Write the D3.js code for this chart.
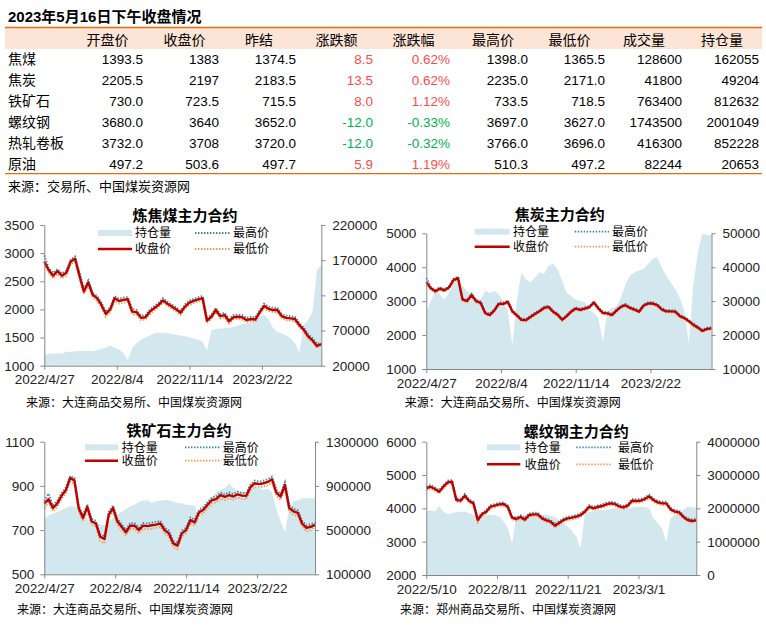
<!DOCTYPE html>
<html>
<head>
<meta charset="utf-8">
<script src="https://cdn.jsdelivr.net/npm/d3@7"></script>
<style>
body { margin: 0; background: #fff; }
svg { display: block; font-family: "Liberation Sans", "Noto Sans CJK SC", sans-serif; }
</style>
</head>
<body>
<div id="chart"></div>
<script>
// ---- table data ----
var products   = ["焦煤", "焦炭", "铁矿石", "螺纹钢", "热轧卷板", "原油"];
var headers    = ["开盘价", "收盘价", "昨结", "涨跌额", "涨跌幅", "最高价", "最低价", "成交量", "持仓量"];
var openPx     = ["1393.5", "2205.5", "730.0", "3680.0", "3732.0", "497.2"];
var closePx    = ["1383", "2197", "723.5", "3640", "3708", "503.6"];
var prevSettle = ["1374.5", "2183.5", "715.5", "3652.0", "3720.0", "497.7"];
var change     = ["8.5", "13.5", "8.0", "-12.0", "-12.0", "5.9"];
var changePct  = ["0.62%", "0.62%", "1.12%", "-0.33%", "-0.32%", "1.19%"];
var highPx     = ["1398.0", "2235.0", "733.5", "3697.0", "3766.0", "510.3"];
var lowPx      = ["1365.5", "2171.0", "718.5", "3627.0", "3696.0", "497.2"];
var volume     = ["128600", "41800", "763400", "1743500", "416300", "82244"];
var openInt    = ["162055", "49204", "812632", "2001049", "852228", "20653"];

// ---- chart data (sampled every ~4 trading days) ----
var legendLabels = ["持仓量", "最高价", "收盘价", "最低价"];
var datesDce   = ["2022/4/27", "2022/8/4", "2022/11/14", "2023/2/22"];
var datesRebar = ["2022/5/10", "2022/8/11", "2022/11/21", "2023/3/1"];

var coalClose = [2850,2700,2600,2680,2600,2650,2850,2900,2600,2320,2480,2260,2200,2080,1920,2000,2200,2150,2170,2180,1960,1950,1850,1860,1960,2020,2080,2160,2100,2050,2000,1940,2050,2120,2150,2180,2200,1800,1870,1990,1880,1900,1790,1860,1870,1860,1810,1830,1820,1950,2060,2010,1990,1990,1880,1850,1840,1830,1720,1640,1520,1450,1350,1383];
var coalHigh  = [2960,2740,2650,2720,2640,2690,2890,2940,2660,2370,2520,2300,2240,2120,1960,2040,2240,2190,2210,2220,2010,1990,1890,1900,2000,2060,2120,2200,2140,2090,2040,1980,2090,2160,2190,2220,2240,1850,1910,2030,1920,1940,1830,1900,1910,1900,1850,1870,1860,1990,2100,2050,2030,2030,1920,1890,1880,1870,1760,1680,1560,1490,1390,1398];
var coalLow   = [2800,2650,2550,2630,2550,2600,2800,2860,2550,2270,2430,2210,2150,2030,1870,1950,2150,2100,2120,2130,1910,1900,1810,1820,1910,1980,2040,2120,2060,2010,1960,1900,2010,2080,2110,2140,2160,1760,1830,1950,1840,1860,1750,1820,1830,1820,1770,1790,1780,1910,2020,1970,1950,1950,1840,1810,1800,1790,1680,1600,1480,1410,1310,1365];
var coalOI    = [35000,37000,37000,38000,36500,40000,40000,40500,41000,41000,41500,40500,42000,44000,46000,49000,45000,43000,38000,28000,45000,52000,57000,60000,63000,66000,67000,66000,66000,65500,64000,63000,62000,60000,59000,57000,54000,42000,70000,72000,73000,73000,74000,75000,77000,79000,80000,81000,84000,90000,92000,86000,74000,68000,66000,63000,59000,52000,38000,78000,85000,97000,155000,163000];

var cokeClose = [3560,3380,3290,3370,3320,3400,3620,3680,3050,3000,3180,3000,2950,2650,2590,2720,2920,2920,2980,2700,2580,2450,2440,2530,2620,2700,2800,2830,2690,2600,2450,2560,2690,2780,2740,2780,2820,2960,2790,2650,2640,2590,2720,2830,2880,2800,2750,2690,2870,2930,2930,2880,2760,2700,2700,2690,2560,2500,2410,2300,2220,2120,2180,2197];
var cokeHigh  = [3680,3420,3330,3410,3360,3440,3660,3720,3090,3040,3220,3040,2990,2690,2630,2760,2960,2960,3020,2740,2620,2490,2480,2570,2660,2740,2840,2870,2730,2640,2490,2600,2730,2820,2780,2820,2860,3000,2830,2690,2680,2630,2760,2870,2920,2840,2790,2730,2910,2970,2970,2920,2800,2740,2740,2730,2600,2540,2450,2340,2260,2160,2220,2235];
var cokeLow   = [3520,3340,3250,3330,3280,3360,3580,3640,3010,2960,3140,2960,2910,2610,2550,2680,2880,2880,2940,2660,2540,2410,2400,2490,2580,2660,2760,2790,2650,2560,2410,2520,2650,2740,2700,2740,2780,2920,2750,2610,2600,2550,2680,2790,2840,2760,2710,2650,2830,2890,2890,2840,2720,2660,2660,2650,2520,2460,2370,2260,2180,2080,2140,2171];
var cokeOI    = [27000,30000,33000,32000,30500,32500,35500,36000,34500,33000,32000,31000,30500,33000,32500,33000,32000,30000,27000,17000,30000,38500,36500,35500,37000,38500,38000,40500,41000,39500,36000,32500,31500,30500,30000,29800,27500,26500,25000,18000,27000,28000,28500,31000,35000,37500,38500,39000,39500,41000,42500,43000,40000,37500,35500,33500,31000,27000,17500,35000,44500,50000,49500,49500];

var oreClose = [820,840,800,820,855,880,935,925,800,755,805,740,730,670,660,770,800,740,715,690,720,720,700,720,718,722,725,730,700,685,640,630,685,700,745,735,780,792,815,835,840,858,850,858,852,862,856,855,895,912,908,912,918,930,870,852,905,800,785,778,730,710,715,723.5];
var oreHigh  = [832,865,812,832,867,892,945,937,812,767,817,752,742,682,672,782,812,752,727,702,732,732,712,732,730,734,737,742,712,697,652,642,697,712,757,747,792,804,827,847,852,870,862,870,864,874,868,867,907,924,920,924,930,942,882,864,917,812,797,790,742,722,727,733.5];
var oreLow   = [800,825,785,805,840,865,920,910,785,740,790,725,715,650,640,755,785,725,700,675,705,705,685,705,703,707,710,715,685,670,622,615,670,685,730,720,765,777,800,820,825,843,835,843,837,847,841,840,880,897,893,897,903,915,855,837,890,785,770,763,715,695,700,718.5];
var oreOI    = [600000,630000,650000,665000,680000,700000,715000,715000,680000,620000,605000,590000,575000,550000,545000,570000,610000,640000,665000,690000,715000,730000,755000,768000,770000,745000,760000,765000,772000,770000,757000,745000,742000,730000,727000,720000,600000,690000,760000,800000,840000,860000,880000,920000,880000,855000,848000,850000,870000,890000,880000,865000,875000,840000,690000,580000,480000,700000,760000,770000,785000,790000,785000,790000];

var rebarClose = [4600,4650,4580,4500,4650,4780,4800,4250,4230,4380,4220,4150,3650,3820,3900,4050,4080,4120,4130,4050,3720,3680,3740,3660,3800,3820,3820,3700,3640,3600,3480,3560,3650,3700,3720,3750,3800,3900,4050,4000,4040,4070,4120,4150,4130,4060,4030,4080,4230,4220,4230,4280,4360,4250,4180,4150,4150,3970,3900,3880,3740,3650,3620,3640];
var rebarHigh  = [4660,4700,4630,4550,4700,4830,4850,4300,4280,4430,4270,4200,3710,3870,3950,4100,4130,4170,4180,4100,3770,3730,3790,3710,3850,3870,3870,3750,3690,3650,3530,3610,3700,3750,3770,3800,3850,3950,4100,4050,4090,4120,4170,4200,4180,4110,4080,4130,4280,4270,4280,4330,4410,4300,4230,4200,4200,4020,3950,3930,3790,3700,3670,3697];
var rebarLow   = [4540,4600,4530,4450,4600,4730,4750,4200,4180,4330,4170,4100,3580,3770,3850,4000,4030,4070,4080,4000,3670,3630,3690,3610,3750,3770,3770,3650,3590,3550,3420,3510,3600,3650,3670,3700,3750,3850,4000,3950,3990,4020,4070,4100,4080,4010,3980,4030,4180,4170,4180,4230,4310,4200,4130,4100,4100,3920,3850,3830,3690,3600,3570,3627];
var rebarOI    = [1900000,1950000,1900000,2080000,1900000,1820000,1850000,1900000,1900000,1900000,1850000,1800000,1780000,1760000,1800000,1800000,1800000,1760000,1620000,1420000,950000,1750000,1800000,1790000,1800000,1810000,1800000,1800000,1800000,1780000,1750000,1650000,1550000,1450000,1330000,1150000,800000,1850000,1900000,1900000,1950000,1950000,1960000,1980000,2000000,2000000,2000000,2010000,2020000,2050000,2050000,2040000,2000000,1700000,1550000,1400000,1000000,1700000,1800000,1850000,1950000,2050000,2030000,2000000];

var totalDays = 252;
var tickDays = [0, 66, 132, 198];

var W = 766, H = 628;
var svg = d3.select("#chart").append("svg")
    .attr("width", W)
    .attr("height", H);

svg.append("rect").attr("width", W).attr("height", H).attr("fill", "#fff");

// ================= table =================
var colRight  = [143, 219, 296, 373, 450, 528, 605, 682, 759];
var colCenter = [107.5, 184.5, 259, 336.5, 413.5, 493, 569.5, 644, 722];
var rowY0 = 64, rowStep = 21;
var lineColor = "#E46C0A";

svg.append("text")
    .attr("x", 8).attr("y", 22)
    .style("font-size", "15px").style("font-weight", "bold")
    .attr("fill", "#000")
    .text("2023年5月16日下午收盘情况");

svg.append("rect")
    .attr("x", 5).attr("y", 27.5).attr("width", 757).attr("height", 21.5)
    .attr("fill", "#FCE4D6");
svg.append("line")
    .attr("x1", 5).attr("x2", 762).attr("y1", 27.5).attr("y2", 27.5)
    .attr("stroke", lineColor).attr("stroke-width", 1.3);
svg.append("line")
    .attr("x1", 5).attr("x2", 762).attr("y1", 173.7).attr("y2", 173.7)
    .attr("stroke", lineColor).attr("stroke-width", 1.3);

svg.selectAll(".hdr").data(headers).enter().append("text")
    .attr("class", "hdr")
    .attr("x", function(d, i) { return colCenter[i]; })
    .attr("y", 45)
    .attr("text-anchor", "middle")
    .style("font-size", "14px")
    .attr("fill", "#000")
    .text(function(d) { return d; });

var columns = [openPx, closePx, prevSettle, change, changePct, highPx, lowPx, volume, openInt];

products.forEach(function(p, r) {
    var y = rowY0 + r * rowStep;
    svg.append("text")
        .attr("x", 8).attr("y", y)
        .style("font-size", "14px")
        .attr("fill", "#000")
        .text(p);
    columns.forEach(function(col, c) {
        var v = col[r];
        var fill = "#000";
        if (c === 3 || c === 4) fill = v.charAt(0) === "-" ? "#00B050" : "#FF4B4B";
        svg.append("text")
            .attr("x", colRight[c]).attr("y", y)
            .attr("text-anchor", "end")
            .style("font-size", "13.5px")
            .attr("fill", fill)
            .text(v);
    });
});

svg.append("text")
    .attr("x", 8).attr("y", 191)
    .style("font-size", "13px")
    .attr("fill", "#000")
    .text("来源：交易所、中国煤炭资源网");

// ================= small charts =================
function drawChart(c) {
    var g = svg.append("g");
    var n = c.close.length;
    var day = function(i) { return i * totalDays / (n - 1); };

    var x = d3.scaleLinear().domain([0, totalDays]).range([c.left, c.right]);
    var yL = d3.scaleLinear().domain(c.leftDomain).range([c.bottom, c.top]);
    var yR = d3.scaleLinear().domain(c.rightDomain).range([c.bottom, c.top]);

    // open interest area
    g.append("path")
        .datum(c.oi)
        .attr("d", d3.area()
            .x(function(d, i) { return x(day(i)); })
            .y0(c.bottom)
            .y1(function(d) { return yR(d); }))
        .attr("fill", "#D3E8EE");

    var line = d3.line()
        .x(function(d, i) { return x(day(i)); })
        .y(function(d) { return yL(d); });

    g.append("path").datum(c.high).attr("d", line)
        .attr("fill", "none").attr("stroke", "#31859C")
        .attr("stroke-width", 1.8).attr("stroke-dasharray", "1.4,1.6");
    g.append("path").datum(c.low).attr("d", line)
        .attr("fill", "none").attr("stroke", "#F79646")
        .attr("stroke-width", 1.8).attr("stroke-dasharray", "1.4,1.6");
    g.append("path").datum(c.close).attr("d", line)
        .attr("fill", "none").attr("stroke", "#C00000")
        .attr("stroke-width", 2.4).attr("stroke-linejoin", "round");

    // axes
    var gl = g.append("g")
        .attr("transform", "translate(" + c.left + ",0)")
        .call(d3.axisLeft(yL).tickValues(c.leftTicks).tickSize(4).tickSizeOuter(0).tickPadding(6).tickFormat(d3.format("d")));
    var gr = g.append("g")
        .attr("transform", "translate(" + c.right + ",0)")
        .call(d3.axisRight(yR).tickValues(c.rightTicks).tickSize(4).tickSizeOuter(0).tickPadding(7).tickFormat(d3.format("d")));
    var gb = g.append("g")
        .attr("transform", "translate(0," + c.bottom + ")")
        .call(d3.axisBottom(x).tickValues(tickDays).tickSize(4).tickSizeOuter(0).tickPadding(5)
            .tickFormat(function(d, i) { return c.dates[i]; }));

    [gl, gr, gb].forEach(function(a) {
        a.select(".domain").attr("stroke", "#868686");
        a.selectAll(".tick line").attr("stroke", "#868686");
        a.selectAll("text").style("font-size", "13.5px").attr("fill", "#222")
            .style("font-family", "Liberation Sans, sans-serif");
    });

    // title
    g.append("text")
        .attr("x", c.titleX).attr("y", c.titleY)
        .attr("text-anchor", "middle")
        .style("font-size", "15px").style("font-weight", "bold")
        .attr("fill", "#000")
        .text(c.title);

    // legend
    var r1 = c.legY[0], r2 = c.legY[1];
    g.append("rect")
        .attr("x", c.legX[0]).attr("y", r1 - 3)
        .attr("width", c.legX[1] - c.legX[0]).attr("height", 6)
        .attr("fill", "#D3E8EE");
    g.append("line")
        .attr("x1", c.legX[0]).attr("x2", c.legX[1]).attr("y1", r2).attr("y2", r2)
        .attr("stroke", "#C00000").attr("stroke-width", 2.6);
    g.append("line")
        .attr("x1", c.legX[3]).attr("x2", c.legX[4]).attr("y1", r1).attr("y2", r1)
        .attr("stroke", "#31859C").attr("stroke-width", 1.8).attr("stroke-dasharray", "1.4,1.6");
    g.append("line")
        .attr("x1", c.legX[3]).attr("x2", c.legX[4]).attr("y1", r2).attr("y2", r2)
        .attr("stroke", "#F79646").attr("stroke-width", 1.8).attr("stroke-dasharray", "1.4,1.6");

    var legPos = [[c.legX[2], r1], [c.legX[5], r1], [c.legX[2], r2], [c.legX[5], r2]];
    legendLabels.forEach(function(t, i) {
        g.append("text")
            .attr("x", legPos[i][0]).attr("y", legPos[i][1])
            .attr("dy", "0.36em")
            .style("font-size", "12px")
            .attr("fill", "#000")
            .text(t);
    });

    // source
    g.append("text")
        .attr("x", c.srcX).attr("y", c.srcY)
        .style("font-size", "12px")
        .attr("fill", "#000")
        .text(c.source);
}

drawChart({
    title: "炼焦煤主力合约", titleX: 185, titleY: 221,
    left: 44.3, right: 321.3, top: 225, bottom: 365.7,
    leftDomain: [1000, 3500], leftTicks: [1000, 1500, 2000, 2500, 3000, 3500],
    rightDomain: [20000, 220000], rightTicks: [20000, 70000, 120000, 170000, 220000],
    close: coalClose, high: coalHigh, low: coalLow, oi: coalOI,
    dates: datesDce,
    legY: [233, 249], legX: [98, 132, 135, 195, 230, 233],
    source: "来源：大连商品交易所、中国煤炭资源网", srcX: 26, srcY: 407
});

drawChart({
    title: "焦炭主力合约", titleX: 559.7, titleY: 220,
    left: 426.3, right: 711.5, top: 233.3, bottom: 369,
    leftDomain: [1000, 5000], leftTicks: [1000, 2000, 3000, 4000, 5000],
    rightDomain: [10000, 50000], rightTicks: [10000, 20000, 30000, 40000, 50000],
    close: cokeClose, high: cokeHigh, low: cokeLow, oi: cokeOI,
    dates: datesDce,
    legY: [231.7, 246.7], legX: [474.7, 509.7, 513, 574.7, 609.7, 612],
    source: "来源：大连商品交易所、中国煤炭资源网", srcX: 404.7, srcY: 407
});

drawChart({
    title: "铁矿石主力合约", titleX: 179, titleY: 436,
    left: 44.3, right: 315, top: 441.7, bottom: 574.3,
    leftDomain: [500, 1100], leftTicks: [500, 700, 900, 1100],
    rightDomain: [100000, 1300000], rightTicks: [100000, 500000, 900000, 1300000],
    close: oreClose, high: oreHigh, low: oreLow, oi: oreOI,
    dates: datesDce,
    legY: [447.3, 460.7], legX: [85, 118, 121.7, 185, 220, 222.7],
    source: "来源：大连商品交易所、中国煤炭资源网", srcX: 17, srcY: 614
});

drawChart({
    title: "螺纹钢主力合约", titleX: 576.3, titleY: 437,
    left: 426.3, right: 696.3, top: 441.7, bottom: 575,
    leftDomain: [2000, 6000], leftTicks: [2000, 3000, 4000, 5000, 6000],
    rightDomain: [0, 4000000], rightTicks: [0, 1000000, 2000000, 3000000, 4000000],
    close: rebarClose, high: rebarHigh, low: rebarLow, oi: rebarOI,
    dates: datesRebar,
    legY: [447.3, 464.3], legX: [487, 520.3, 524.7, 576.3, 611.3, 618],
    source: "来源：郑州商品交易所、中国煤炭资源网", srcX: 400, srcY: 614
});
</script>
</body>
</html>
